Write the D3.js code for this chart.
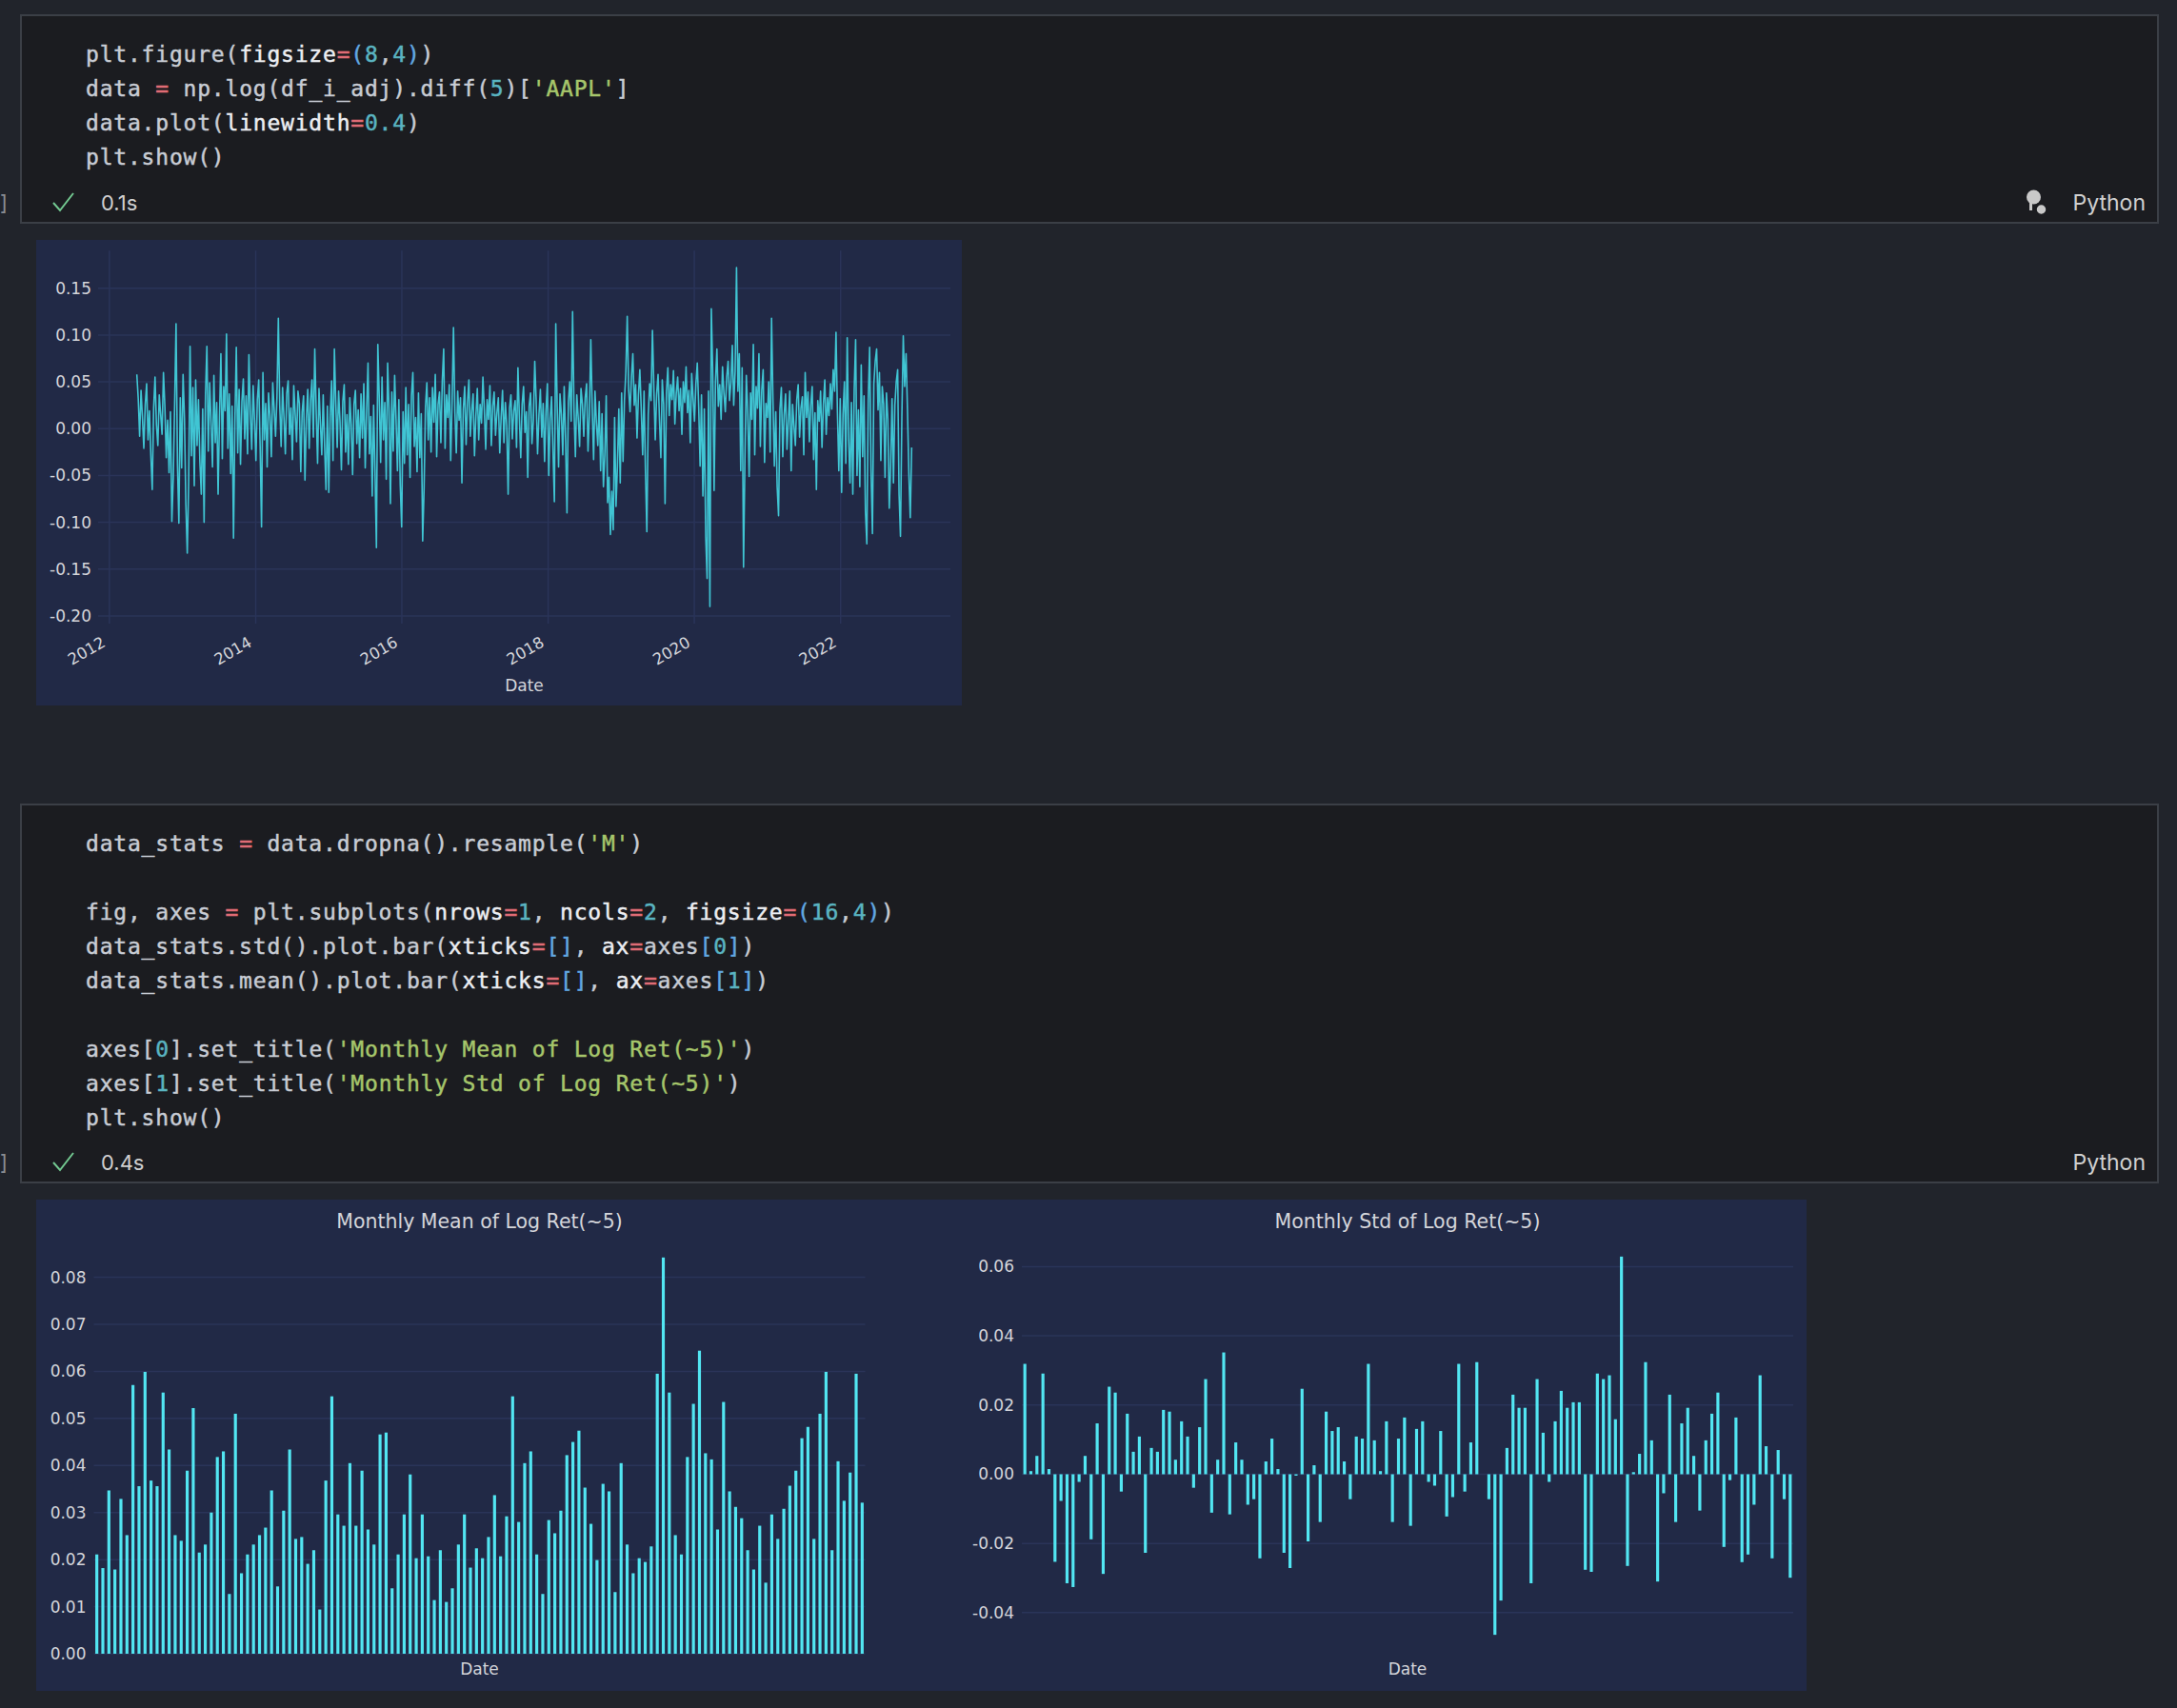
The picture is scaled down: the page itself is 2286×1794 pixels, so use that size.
<!DOCTYPE html>
<html lang="en">
<head>
    <meta charset="UTF-8">
    <title>AAPL 5-day log returns</title>
    <script src="https://d3js.org/d3.v7.min.js"></script>
    <style>
        body { margin: 0; background: #21242b; }
        svg { display: block; }
        .code { font-family: "DejaVu Sans Mono", monospace; font-size: 23px; letter-spacing: 0.8px; white-space: pre; }
        .ui { font-family: Inter, "Noto Sans", sans-serif; }
        .mpl { font-family: "DejaVu Sans", sans-serif; fill: #d4d5da; }
    </style>
</head>
<body>
<svg id="page" width="2286" height="1794"></svg>

<script>
    // ---- data ----
    const lineStart = "2012-05-17";   // weekly samples of log(price).diff(5)
    const weeklyLogRet = [
        0.058, 0.032, -0.008, 0.041, 0.012, -0.021, 0.026, 0.048, -0.012, 0.019,
        -0.028, -0.065, 0.022, 0.055, 0.004, -0.018, 0.036, 0.015, -0.006, 0.060,
        0.024, -0.031, 0.009, -0.047, 0.018, -0.099, -0.052, 0.027, 0.112, -0.038,
        -0.101, 0.033, -0.042, 0.058, 0.011, -0.081, -0.133, -0.056, 0.088, -0.029,
        0.044, -0.061, 0.052, -0.018, 0.031, -0.035, -0.070, 0.021, -0.100, 0.036,
        0.088, -0.024, 0.049, 0.006, -0.041, 0.057, -0.015, 0.028, -0.070, 0.012,
        0.080, -0.032, 0.045, 0.019, 0.101, -0.021, 0.037, -0.048, 0.024, -0.117,
        0.008, 0.087, -0.026, 0.042, -0.038, 0.029, 0.053, -0.011, 0.035, -0.027,
        0.079, 0.016, -0.022, 0.046, 0.009, -0.034, 0.031, 0.052, -0.018, -0.105,
        0.060, -0.012, 0.027, -0.041, 0.038, 0.014, -0.030, 0.049, 0.021, -0.008,
        0.033, 0.118, 0.025, -0.019, 0.044, 0.012, -0.027, 0.038, 0.051, -0.006,
        0.022, -0.033, 0.046, 0.016, -0.014, 0.040, 0.027, -0.046, 0.018, 0.035,
        -0.055, 0.011, 0.042, -0.021, 0.030, 0.052, -0.009, 0.085, 0.019, -0.037,
        0.043, 0.006, -0.028, 0.036, -0.018, -0.065, 0.024, -0.068, 0.012, 0.051,
        -0.034, 0.085, 0.027, -0.020, 0.040, 0.008, -0.044, 0.029, 0.047, -0.025,
        0.015, -0.038, 0.033, 0.004, -0.049, 0.026, 0.041, -0.016, 0.020, -0.031,
        0.037, -0.010, 0.048, -0.042, 0.019, 0.070, -0.027, 0.013, -0.072, 0.025,
        -0.048, -0.127, 0.090, 0.034, -0.036, 0.055, -0.012, 0.028, -0.054, 0.070,
        0.021, -0.080, 0.039, -0.024, 0.057, 0.010, -0.045, 0.031, -0.060, -0.105,
        0.018, -0.037, 0.044, -0.028, 0.026, -0.052, 0.035, 0.060, -0.019, 0.012,
        -0.046, 0.038, -0.031, 0.016, -0.120, -0.064, 0.023, 0.049, -0.012, 0.033,
        -0.025, 0.044, 0.007, 0.058, -0.030, 0.026, 0.039, -0.015, 0.051, 0.085,
        -0.021, 0.036, 0.012, 0.047, -0.034, 0.029, 0.108, 0.018, -0.026, 0.040,
        0.009, 0.033, -0.058, 0.021, 0.045, -0.017, 0.028, 0.052, -0.008, 0.019,
        0.037, -0.029, 0.014, 0.043, -0.012, 0.026, 0.006, 0.055, 0.020, -0.022,
        0.031, 0.010, 0.046, -0.018, 0.024, 0.039, -0.007, 0.017, 0.033, -0.026,
        0.012, 0.041, -0.015, 0.028, 0.004, -0.070, 0.022, 0.036, -0.011, 0.019,
        0.030, -0.020, 0.065, 0.013, -0.031, 0.026, 0.045, -0.004, 0.018, -0.052,
        0.024, 0.038, -0.016, 0.009, 0.072, 0.030, -0.027, 0.015, 0.042, -0.009,
        0.027, -0.035, 0.019, 0.048, -0.050, 0.011, 0.034, -0.022, -0.078, 0.112,
        0.024, -0.041, 0.037, 0.015, -0.028, 0.045, -0.012, -0.090, 0.029, 0.050,
        0.008, 0.125, 0.021, -0.030, 0.036, 0.012, -0.019, 0.043, 0.026, -0.008,
        0.033, 0.048, -0.024, 0.015, 0.095, 0.022, -0.033, 0.040, 0.006, -0.018,
        0.029, -0.045, 0.016, -0.062, -0.028, 0.035, -0.079, -0.052, -0.113, -0.067,
        -0.108, 0.012, -0.083, -0.040, 0.021, -0.058, 0.038, -0.035, 0.030, 0.060,
        0.120, 0.042, 0.018, 0.055, 0.080, 0.025, 0.047, -0.010, 0.036, 0.063,
        0.021, -0.028, 0.040, -0.045, -0.110, 0.015, 0.048, 0.030, 0.105, 0.044,
        -0.012, 0.037, 0.058, 0.010, -0.031, 0.052, 0.026, -0.080, 0.040, 0.065,
        0.014, 0.047, 0.031, 0.062, 0.005, 0.038, 0.055, 0.019, 0.043, -0.006,
        0.050, 0.028, 0.066, 0.017, 0.041, -0.015, 0.059, 0.032, 0.008, 0.048,
        0.070, 0.023, -0.040, 0.036, -0.072, 0.021, -0.115, -0.160, 0.040, -0.190,
        0.128, 0.062, -0.066, 0.050, 0.085, 0.024, 0.047, 0.010, 0.066, 0.038,
        0.018, 0.055, 0.072, 0.030, 0.049, 0.089, 0.025, 0.061, 0.172, 0.040,
        0.080, -0.045, 0.065, -0.148, -0.032, 0.057, 0.019, -0.051, 0.038, 0.010,
        0.090, -0.028, 0.045, 0.022, 0.080, -0.019, 0.041, 0.063, -0.036, 0.027,
        0.012, 0.050, -0.025, 0.118, 0.030, -0.040, 0.018, -0.062, -0.093, 0.021,
        0.044, -0.030, 0.015, 0.037, -0.022, 0.009, 0.040, -0.045, 0.026, 0.003,
        -0.018, 0.031, 0.047, -0.009, 0.022, 0.034, -0.028, 0.060, 0.012, 0.039,
        -0.014, 0.025, 0.045, -0.033, 0.017, -0.065, 0.030, 0.008, 0.040, -0.020,
        0.026, 0.052, -0.006, 0.033, 0.014, 0.048, 0.021, 0.063, 0.040, 0.103,
        0.018, -0.045, 0.032, -0.068, 0.015, 0.050, -0.037, 0.097, -0.010, -0.058,
        0.028, -0.070, 0.042, 0.095, -0.050, 0.020, -0.062, 0.068, -0.030, 0.035,
        -0.088, -0.123, 0.030, 0.087, -0.045, -0.112, 0.048, 0.072, 0.085, 0.020,
        0.060, -0.034, 0.045, 0.026, -0.052, 0.038, 0.010, -0.085, -0.040, 0.032,
        -0.058, 0.025, 0.050, 0.063, -0.070, -0.115, 0.012, 0.099, 0.045, 0.080,
        0.020, -0.048, -0.095, -0.020
    ];

    // monthly bars, May 2012 .. Dec 2022 (left panel is the std, right panel the mean)
    const monthlyStd = [
        0.0211, 0.0182, 0.0347, 0.0179, 0.0329, 0.0252, 0.0571, 0.0356, 0.0599, 0.0368,
        0.0356, 0.0555, 0.0434, 0.0252, 0.0240, 0.0389, 0.0522, 0.0215, 0.0232, 0.0300,
        0.0418, 0.0430, 0.0127, 0.0510, 0.0171, 0.0211, 0.0232, 0.0252, 0.0268, 0.0347,
        0.0143, 0.0304, 0.0434, 0.0244, 0.0248, 0.0191, 0.0220, 0.0094, 0.0368, 0.0547,
        0.0296, 0.0272, 0.0405, 0.0272, 0.0389, 0.0264, 0.0232, 0.0466, 0.0470, 0.0139,
        0.0211, 0.0296, 0.0381, 0.0203, 0.0296, 0.0207, 0.0114, 0.0220, 0.0110, 0.0139,
        0.0232, 0.0296, 0.0183, 0.0224, 0.0203, 0.0248, 0.0337, 0.0207, 0.0292, 0.0547,
        0.0280, 0.0405, 0.0430, 0.0211, 0.0127, 0.0284, 0.0256, 0.0304, 0.0422, 0.0450,
        0.0474, 0.0353, 0.0276, 0.0199, 0.0361, 0.0345, 0.0131, 0.0405, 0.0232, 0.0171,
        0.0203, 0.0195, 0.0228, 0.0595, 0.0842, 0.0555, 0.0252, 0.0211, 0.0418, 0.0531,
        0.0644, 0.0426, 0.0413, 0.0264, 0.0535, 0.0345, 0.0312, 0.0288, 0.0220, 0.0179,
        0.0272, 0.0151, 0.0296, 0.0244, 0.0308, 0.0357, 0.0389, 0.0458, 0.0482, 0.0244,
        0.0510, 0.0599, 0.0220, 0.0409, 0.0325, 0.0385, 0.0595, 0.0321
    ];
    const monthlyMean = [
        0.0319, 0.0009, 0.0053, 0.0291, 0.0015, -0.0253, -0.0077, -0.0315, -0.0326, -0.0022,
        0.0053, -0.0188, 0.0147, -0.0288, 0.0253, 0.0236, -0.0050, 0.0175, 0.0065, 0.0109,
        -0.0227, 0.0076, 0.0065, 0.0186, 0.0181, 0.0042, 0.0153, 0.0109, -0.0039, 0.0136,
        0.0275, -0.0111, 0.0042, 0.0352, -0.0116, 0.0092, 0.0042, -0.0088, -0.0072, -0.0243,
        0.0037, 0.0103, 0.0015, -0.0227, -0.0271, -0.0004, 0.0247, -0.0194, 0.0026, -0.0138,
        0.0181, 0.0125, 0.0136, 0.0037, -0.0072, 0.0109, 0.0103, 0.0319, 0.0098, 0.0009,
        0.0153, -0.0138, 0.0103, 0.0164, -0.0149, 0.0131, 0.0153, -0.0022, -0.0033, 0.0125,
        -0.0122, -0.0066, 0.0319, -0.0050, 0.0092, 0.0324, 0.0000, -0.0072, -0.0464, -0.0365,
        0.0076, 0.0230, 0.0192, 0.0192, -0.0315, 0.0275, 0.0120, -0.0022, 0.0153, 0.0241,
        0.0192, 0.0208, 0.0208, -0.0276, -0.0282, 0.0291, 0.0275, 0.0286, 0.0159, 0.0629,
        -0.0265, 0.0006, 0.0059, 0.0324, 0.0098, -0.0310, -0.0055, 0.0230, -0.0138, 0.0147,
        0.0192, 0.0053, -0.0105, 0.0098, 0.0175, 0.0236, -0.0210, -0.0017, 0.0164, -0.0254,
        -0.0232, -0.0088, 0.0286, 0.0081, -0.0243, 0.0070, -0.0072, -0.0299
    ];

    const lineYTicks = [-0.20, -0.15, -0.10, -0.05, 0.00, 0.05, 0.10, 0.15];
    const lineXTicks = [2012, 2014, 2016, 2018, 2020, 2022];
    const stdTicks = [0.00, 0.01, 0.02, 0.03, 0.04, 0.05, 0.06, 0.07, 0.08];
    const meanTicks = [-0.04, -0.02, 0.00, 0.02, 0.04, 0.06];
    const panelTitles = ["Monthly Mean of Log Ret(~5)", "Monthly Std of Log Ret(~5)"];

    // notebook cells: [text, token kind]
    const cell1 = [
        [["plt.figure(", "d"], ["figsize", "k"], ["=", "o"], ["(", "b"], ["8", "n"], [",", "d"], ["4", "n"], [")", "b"], [")", "d"]],
        [["data ", "d"], ["=", "o"], [" np.log(df_i_adj).diff(", "d"], ["5", "n"], [")[", "d"], ["'AAPL'", "s"], ["]", "d"]],
        [["data.plot(", "d"], ["linewidth", "k"], ["=", "o"], ["0.4", "n"], [")", "d"]],
        [["plt.show()", "d"]]
    ];
    const cell2 = [
        [["data_stats ", "d"], ["=", "o"], [" data.dropna().resample(", "d"], ["'M'", "s"], [")", "d"]],
        [],
        [["fig, axes ", "d"], ["=", "o"], [" plt.subplots(", "d"], ["nrows", "k"], ["=", "o"], ["1", "n"], [", ", "d"], ["ncols", "k"], ["=", "o"], ["2", "n"], [", ", "d"], ["figsize", "k"], ["=", "o"], ["(", "b"], ["16", "n"], [",", "d"], ["4", "n"], [")", "b"], [")", "d"]],
        [["data_stats.std().plot.bar(", "d"], ["xticks", "k"], ["=", "o"], ["[]", "b"], [", ", "d"], ["ax", "k"], ["=", "o"], ["axes", "d"], ["[", "b"], ["0", "n"], ["]", "b"], [")", "d"]],
        [["data_stats.mean().plot.bar(", "d"], ["xticks", "k"], ["=", "o"], ["[]", "b"], [", ", "d"], ["ax", "k"], ["=", "o"], ["axes", "d"], ["[", "b"], ["1", "n"], ["]", "b"], [")", "d"]],
        [],
        [["axes[", "d"], ["0", "n"], ["].set_title(", "d"], ["'Monthly Mean of Log Ret(~5)'", "s"], [")", "d"]],
        [["axes[", "d"], ["1", "n"], ["].set_title(", "d"], ["'Monthly Std of Log Ret(~5)'", "s"], [")", "d"]],
        [["plt.show()", "d"]]
    ];
    const tokenColor = { d: "#c8ccd4", k: "#eceef2", o: "#e06c75", n: "#5ab4c1", b: "#62a8e2", s: "#a6c66b" };

    // ---- page ----
    const svg = d3.select("#page");
    svg.append("rect").attr("width", 2286).attr("height", 1794).attr("fill", "#21242b");

    function drawCell(top, height, lines, firstCenter, elapsed, showBulb) {
        const g = svg.append("g");
        g.append("rect")
            .attr("x", 22).attr("y", top).attr("width", 2244).attr("height", height)
            .attr("fill", "#1b1c20").attr("stroke", "#3b3f46").attr("stroke-width", 2);

        lines.forEach((tokens, i) => {
            if (!tokens.length) return;
            const t = g.append("text").attr("class", "code")
                .attr("x", 90).attr("y", firstCenter + i * 36 + 7);
            tokens.forEach(([txt, kind]) => {
                t.append("tspan").text(txt)
                    .attr("fill", tokenColor[kind])
                    .attr("stroke", tokenColor[kind]).attr("stroke-width", 0.45);
            });
        });

        const sy = top + height - 21;   // status row centre
        g.append("text").attr("class", "ui").attr("x", 0).attr("y", sy + 8)
            .attr("font-size", 22).attr("fill", "#8a8d93").text("]");
        g.append("path")
            .attr("d", `M56,${sy} L63,${sy + 8} L77,${sy - 10}`)
            .attr("fill", "none").attr("stroke", "#73c991").attr("stroke-width", 2);
        g.append("text").attr("class", "ui").attr("x", 106).attr("y", sy + 8)
            .attr("font-size", 22).attr("fill", "#d0d0d0").text(elapsed);
        g.append("text").attr("class", "ui").attr("x", 2253).attr("y", sy + 8)
            .attr("font-size", 23).attr("text-anchor", "end").attr("fill", "#d0d0d0").text("Python");
        if (showBulb) {
            g.append("circle").attr("cx", 2135.5).attr("cy", sy - 6).attr("r", 7.5).attr("fill", "#c9c9c9");
            g.append("rect").attr("x", 2131).attr("y", sy - 1).attr("width", 3).attr("height", 9).attr("fill", "#c9c9c9");
            g.append("circle").attr("cx", 2143.5).attr("cy", sy + 7).attr("r", 5.5)
                .attr("fill", "#c9c9c9").attr("stroke", "#1b1c20").attr("stroke-width", 1.5);
        }
    }

    drawCell(16, 218, cell1, 58.3, "0.1s", true);
    drawCell(845, 397, cell2, 886.7, "0.4s", false);

    const fmt = d3.format(".2f");
    const tickText = v => fmt(v).replace("\u2212", "-");
    const gridColor = "#2a3459";
    const barColor = "#52e6f2";

    // ---- figure 1: weekly log returns ----
    const f1 = { x: 38, y: 252, w: 972, h: 489 };
    const p1 = { left: 103, right: 998, top: 263.3, bottom: 654.9 };
    svg.append("rect").attr("x", f1.x).attr("y", f1.y).attr("width", f1.w).attr("height", f1.h).attr("fill", "#212946");

    const t0 = d3.isoParse(lineStart);
    const series = weeklyLogRet.map((v, i) => ({ date: d3.timeDay.offset(t0, 7 * i), value: v }));
    const dExt = d3.extent(series, d => d.date);
    const dPad = (dExt[1] - dExt[0]) * 0.05;
    const x1 = d3.scaleTime()
        .domain([new Date(+dExt[0] - dPad), new Date(+dExt[1] + dPad)])
        .range([p1.left, p1.right]);
    const vExt = d3.extent(weeklyLogRet);
    const vPad = (vExt[1] - vExt[0]) * 0.05;
    const y1 = d3.scaleLinear().domain([vExt[0] - vPad, vExt[1] + vPad]).range([p1.bottom, p1.top]);

    const g1 = svg.append("g");
    g1.selectAll(".hg").data(lineYTicks).join("line")
        .attr("x1", p1.left).attr("x2", p1.right)
        .attr("y1", d => y1(d)).attr("y2", d => y1(d))
        .attr("stroke", gridColor).attr("stroke-width", 1.5);
    g1.selectAll(".vg").data(lineXTicks).join("line")
        .attr("x1", d => x1(new Date(d, 0, 1))).attr("x2", d => x1(new Date(d, 0, 1)))
        .attr("y1", p1.top).attr("y2", p1.bottom)
        .attr("stroke", gridColor).attr("stroke-width", 1.5);

    g1.append("path").datum(series)
        .attr("d", d3.line().x(d => x1(d.date)).y(d => y1(d.value)))
        .attr("fill", "none").attr("stroke", "#45e0ec").attr("stroke-width", 1.6)
        .attr("stroke-opacity", 0.85).attr("stroke-linejoin", "round");

    g1.selectAll(".yl").data(lineYTicks).join("text").attr("class", "mpl")
        .attr("x", p1.left - 7).attr("y", d => y1(d) + 6)
        .attr("text-anchor", "end").attr("font-size", 17).text(tickText);
    g1.selectAll(".xl").data(lineXTicks).join("text").attr("class", "mpl")
        .attr("text-anchor", "end").attr("font-size", 16.5)
        .attr("transform", d => `translate(${x1(new Date(d, 0, 1)) - 3},${p1.bottom + 23}) rotate(-30)`)
        .text(d => d);
    g1.append("text").attr("class", "mpl")
        .attr("x", (p1.left + p1.right) / 2).attr("y", 726)
        .attr("text-anchor", "middle").attr("font-size", 17).text("Date");

    // ---- figure 2: monthly bars ----
    const f2 = { x: 38, y: 1260, w: 1859, h: 516 };
    svg.append("rect").attr("x", f2.x).attr("y", f2.y).attr("width", f2.w).attr("height", f2.h).attr("fill", "#212946");

    function barPanel(values, ticks, left, right, title, fromZero) {
        const top = 1300, bottom = 1737;
        const x = d3.scaleBand().domain(d3.range(values.length))
            .range([left, right]).paddingInner(0.5).paddingOuter(0.25);
        let lo, hi;
        if (fromZero) {
            lo = 0; hi = d3.max(values) * 1.05;
        } else {
            const e = d3.extent(values), pad = (e[1] - e[0]) * 0.05;
            lo = e[0] - pad; hi = e[1] + pad;
        }
        const y = d3.scaleLinear().domain([lo, hi]).range([bottom, top]);
        const g = svg.append("g");

        g.selectAll(".grid").data(ticks).join("line")
            .attr("x1", left).attr("x2", right)
            .attr("y1", d => y(d)).attr("y2", d => y(d))
            .attr("stroke", gridColor).attr("stroke-width", 1.5);

        g.selectAll(".bar").data(values).join("rect")
            .attr("x", (d, i) => x(i)).attr("width", x.bandwidth())
            .attr("y", d => Math.min(y(d), y(0)))
            .attr("height", d => Math.abs(y(d) - y(0)))
            .attr("fill", barColor);

        g.selectAll(".yl").data(ticks).join("text").attr("class", "mpl")
            .attr("x", left - 8).attr("y", d => y(d) + 6)
            .attr("text-anchor", "end").attr("font-size", 17).text(tickText);
        g.append("text").attr("class", "mpl")
            .attr("x", (left + right) / 2).attr("y", 1290)
            .attr("text-anchor", "middle").attr("font-size", 20.5).text(title);
        g.append("text").attr("class", "mpl")
            .attr("x", (left + right) / 2).attr("y", 1759)
            .attr("text-anchor", "middle").attr("font-size", 17).text("Date");
    }

    barPanel(monthlyStd, stdTicks, 98.5, 908.5, panelTitles[0], true);
    barPanel(monthlyMean, meanTicks, 1073, 1883, panelTitles[1], false);
</script>

</body>
</html>
